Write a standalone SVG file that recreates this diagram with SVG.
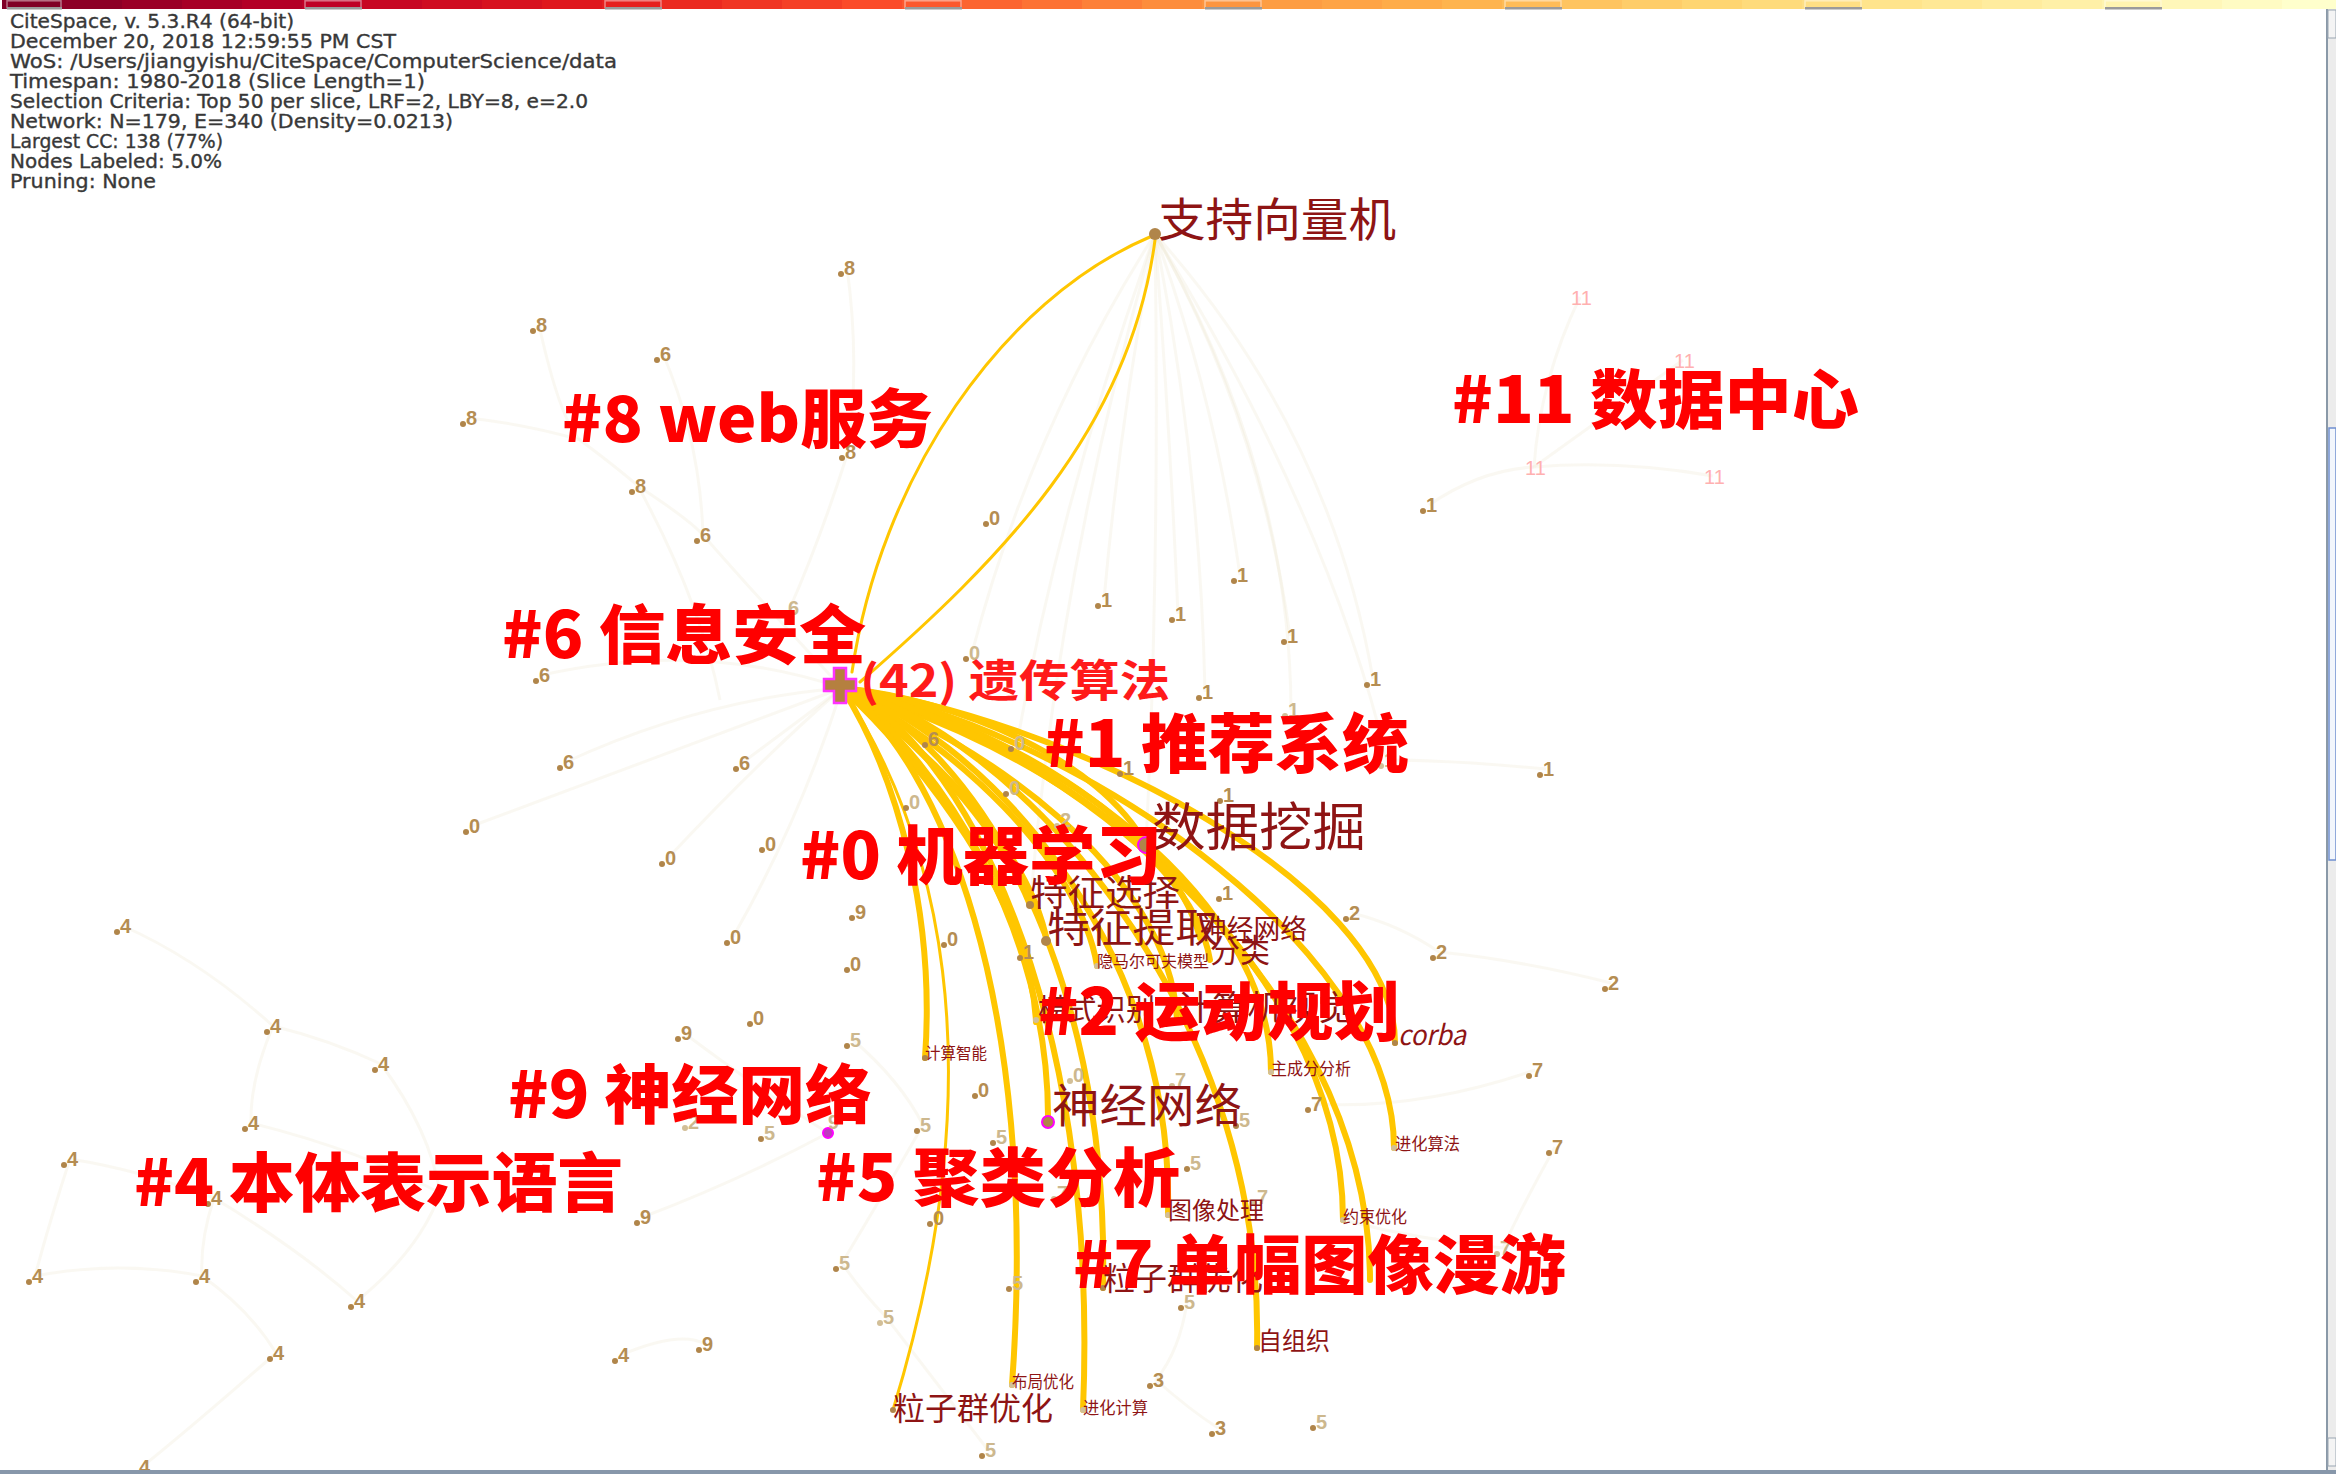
<svg xmlns="http://www.w3.org/2000/svg" width="2336" height="1474" viewBox="0 0 2336 1474">
<style>
.hdr{font-family:"DejaVu Sans","Liberation Sans",sans-serif;font-size:19px;fill:#383838;stroke:#383838;stroke-width:0.35}
.cl{font-family:"Noto Sans CJK SC","Liberation Sans",sans-serif;font-weight:900;font-size:64px;fill:#ff0000}
.nl{font-family:"Noto Sans CJK SC","Liberation Sans",sans-serif;fill:#8e1414}
.num{font-family:"Liberation Sans",sans-serif;font-weight:700;font-size:20px;fill:#b58d52}
.numf{font-family:"Liberation Sans",sans-serif;font-weight:700;font-size:20px;fill:#cdb88e}
.n11{font-family:"Liberation Sans",sans-serif;font-size:20px;fill:#ffb0b0}
.dot{fill:#b0854a}
.dotf{fill:#d2bf98}
.e{fill:none;stroke:#ffc600;stroke-width:6;stroke-linecap:round}
.et{fill:none;stroke:#ffc600;stroke-width:3;stroke-linecap:round}
.ef{fill:none;stroke:#ece6d2;stroke-width:3;opacity:0.28}
</style>
<rect width="2336" height="1474" fill="#ffffff"/>
<g id="timebar">
<rect x="2" y="0" width="60" height="9" fill="#800026"/><rect x="62" y="0" width="60" height="9" fill="#8d0026"/><rect x="122" y="0" width="60" height="9" fill="#9a0026"/><rect x="182" y="0" width="60" height="9" fill="#a70026"/><rect x="242" y="0" width="60" height="9" fill="#b30026"/><rect x="302" y="0" width="60" height="9" fill="#bf0125"/><rect x="362" y="0" width="60" height="9" fill="#c70723"/><rect x="422" y="0" width="60" height="9" fill="#cf0c21"/><rect x="482" y="0" width="60" height="9" fill="#d7121f"/><rect x="542" y="0" width="60" height="9" fill="#df171d"/><rect x="602" y="0" width="60" height="9" fill="#e61f1d"/><rect x="662" y="0" width="60" height="9" fill="#eb2a20"/><rect x="722" y="0" width="60" height="9" fill="#f03523"/><rect x="782" y="0" width="60" height="9" fill="#f54026"/><rect x="842" y="0" width="60" height="9" fill="#fb4b29"/><rect x="902" y="0" width="60" height="9" fill="#fc582d"/><rect x="962" y="0" width="60" height="9" fill="#fc6531"/><rect x="1022" y="0" width="60" height="9" fill="#fd7234"/><rect x="1082" y="0" width="60" height="9" fill="#fd8038"/><rect x="1142" y="0" width="60" height="9" fill="#fd8d3c"/><rect x="1202" y="0" width="60" height="9" fill="#fd953f"/><rect x="1262" y="0" width="60" height="9" fill="#fd9d43"/><rect x="1322" y="0" width="60" height="9" fill="#fea446"/><rect x="1382" y="0" width="60" height="9" fill="#feac49"/><rect x="1442" y="0" width="60" height="9" fill="#feb44e"/><rect x="1502" y="0" width="60" height="9" fill="#febc57"/><rect x="1562" y="0" width="60" height="9" fill="#fec460"/><rect x="1622" y="0" width="60" height="9" fill="#fecd69"/><rect x="1682" y="0" width="60" height="9" fill="#fed571"/><rect x="1742" y="0" width="60" height="9" fill="#fedb7b"/><rect x="1802" y="0" width="60" height="9" fill="#fedf84"/><rect x="1862" y="0" width="60" height="9" fill="#ffe48c"/><rect x="1922" y="0" width="60" height="9" fill="#ffe895"/><rect x="1982" y="0" width="60" height="9" fill="#ffec9e"/><rect x="2042" y="0" width="60" height="9" fill="#fff0a7"/><rect x="2102" y="0" width="60" height="9" fill="#fff4b0"/><rect x="2162" y="0" width="60" height="9" fill="#fff7b9"/><rect x="2222" y="0" width="60" height="9" fill="#fffbc3"/><rect x="2282" y="0" width="54" height="9" fill="#ffffcc"/>
<g fill="none" stroke="#ffffff" stroke-opacity="0.45" stroke-width="1.5">
<rect x="7" y="0.8" width="54" height="7"/><rect x="305" y="0.8" width="56" height="7"/><rect x="605" y="0.8" width="56" height="7"/><rect x="905" y="0.8" width="56" height="7"/><rect x="1205" y="0.8" width="56" height="7"/><rect x="1505" y="0.8" width="56" height="7"/><rect x="1805" y="0.8" width="56" height="7"/><rect x="2105" y="0.8" width="56" height="7"/>
</g>
<g fill="#9a9a9a">
<rect x="7" y="7" width="55" height="2.5"/><rect x="305" y="7" width="57" height="2.5"/><rect x="605" y="7" width="57" height="2.5"/><rect x="905" y="7" width="57" height="2.5"/><rect x="1205" y="7" width="57" height="2.5"/><rect x="1505" y="7" width="57" height="2.5"/><rect x="1805" y="7" width="57" height="2.5"/><rect x="2105" y="7" width="57" height="2.5"/>
</g>
</g>
<g id="header">
<text class="hdr" x="10" y="28" textLength="284" lengthAdjust="spacingAndGlyphs">CiteSpace, v. 5.3.R4 (64-bit)</text>
<text class="hdr" x="10" y="48" textLength="386" lengthAdjust="spacingAndGlyphs">December 20, 2018 12:59:55 PM CST</text>
<text class="hdr" x="10" y="68" textLength="607" lengthAdjust="spacingAndGlyphs">WoS: /Users/jiangyishu/CiteSpace/ComputerScience/data</text>
<text class="hdr" x="10" y="88" textLength="415" lengthAdjust="spacingAndGlyphs">Timespan: 1980-2018 (Slice Length=1)</text>
<text class="hdr" x="10" y="108" textLength="578" lengthAdjust="spacingAndGlyphs">Selection Criteria: Top 50 per slice, LRF=2, LBY=8, e=2.0</text>
<text class="hdr" x="10" y="128" textLength="443" lengthAdjust="spacingAndGlyphs">Network: N=179, E=340 (Density=0.0213)</text>
<text class="hdr" x="10" y="148" textLength="213" lengthAdjust="spacingAndGlyphs">Largest CC: 138 (77%)</text>
<text class="hdr" x="10" y="168" textLength="212" lengthAdjust="spacingAndGlyphs">Nodes Labeled: 5.0%</text>
<text class="hdr" x="10" y="188" textLength="146" lengthAdjust="spacingAndGlyphs">Pruning: None</text>
</g>
<g id="connectors">
<g id="faint">
<path class="ef" d="M1155,234 Q1120,420 1104,600"/>
<path class="ef" d="M1155,234 Q1170,430 1178,614"/>
<path class="ef" d="M1155,234 Q1215,400 1240,575"/>
<path class="ef" d="M1155,234 Q1260,420 1290,636"/>
<path class="ef" d="M1155,234 Q1330,430 1373,679"/>
<path class="ef" d="M1155,234 Q1200,460 1205,692"/>
<path class="ef" d="M1155,234 Q1160,560 1146,845"/>
<path class="ef" d="M1155,234 Q1060,560 1030,905"/>
<path class="ef" d="M1155,234 Q1290,470 1291,710"/>
<path class="ef" d="M1155,234 Q1030,430 972,653"/>
<path class="ef" d="M1155,234 Q1060,500 1017,743"/>
<path class="ef" d="M1155,234 Q1330,520 1387,760"/>
<path class="ef" d="M847,268 Q860,360 848,452 Q820,540 790,608"/>
<path class="ef" d="M539,325 Q560,420 580,440 Q620,470 638,486 Q690,520 703,535 Q760,600 842,688"/>
<path class="ef" d="M469,418 Q530,425 580,440"/>
<path class="ef" d="M663,354 Q700,440 703,535"/>
<path class="ef" d="M638,486 Q700,600 720,700"/>
<path class="ef" d="M542,675 Q700,640 842,688"/>
<path class="ef" d="M472,826 Q650,760 842,688"/>
<path class="ef" d="M668,858 Q760,760 842,688"/>
<path class="ef" d="M733,937 Q800,820 842,688"/>
<path class="ef" d="M566,762 Q700,700 842,688"/>
<path class="ef" d="M742,763 Q800,720 842,688"/>
<path class="ef" d="M123,926 Q200,960 273,1026 Q330,1040 381,1064"/>
<path class="ef" d="M273,1026 Q250,1080 251,1123"/>
<path class="ef" d="M70,1159 Q140,1170 214,1198 Q300,1250 357,1301"/>
<path class="ef" d="M35,1276 Q120,1260 202,1276 Q250,1310 276,1353 Q200,1420 142,1467"/>
<path class="ef" d="M251,1123 Q360,1150 440,1193"/>
<path class="ef" d="M357,1301 Q420,1250 440,1193"/>
<path class="ef" d="M214,1198 Q200,1240 202,1276"/>
<path class="ef" d="M381,1064 Q430,1130 440,1193"/>
<path class="ef" d="M70,1159 Q50,1220 35,1276"/>
<path class="ef" d="M621,1355 Q680,1330 705,1344"/>
<path class="ef" d="M643,1217 Q740,1180 828,1133"/>
<path class="ef" d="M684,1033 Q760,1090 828,1133"/>
<path class="ef" d="M1580,297 Q1540,380 1534,467 Q1620,460 1713,476"/>
<path class="ef" d="M1683,360 Q1600,420 1534,467"/>
<path class="ef" d="M1429,505 Q1480,470 1534,467"/>
<path class="ef" d="M1352,913 Q1400,925 1439,952 Q1520,960 1611,983"/>
<path class="ef" d="M1535,1070 Q1420,1110 1314,1104"/>
<path class="ef" d="M1555,1147 Q1520,1210 1503,1248 Q1420,1240 1343,1220"/>
<path class="ef" d="M853,1040 Q900,1080 923,1125 Q880,1200 842,1263 Q860,1290 886,1317 Q950,1400 988,1450"/>
<path class="ef" d="M1546,769 Q1450,760 1387,760"/>
<path class="ef" d="M1187,1302 Q1180,1350 1156,1380 Q1190,1410 1218,1428"/>
</g>
<g id="strong">
<path class="et" d="M852,672 C880,480 1000,300 1152,236"/>
<path class="et" d="M860,682 C1000,560 1130,430 1155,240"/>
<path class="e" d="M842,688 C960,700 1100,760 1146,845"/>
<path class="e" d="M842,688 C920,740 1000,830 1030,905"/>
<path class="e" d="M842,688 C930,750 1030,850 1047,942"/>
<path class="e" d="M842,688 C990,720 1170,820 1200,938"/>
<path class="e" d="M842,688 C990,730 1190,840 1210,960"/>
<path class="e" d="M842,688 C950,740 1080,860 1097,966"/>
<path class="e" d="M842,688 C920,760 1030,900 1036,1022"/>
<path class="e" d="M842,688 C980,740 1170,870 1177,1020"/>
<path class="e" d="M842,688 C1063,716 1395,883 1395,1043"/>
<path class="e" d="M842,688 C900,780 935,920 925,1058"/>
<path class="e" d="M842,688 C1010,720 1271,880 1271,1072"/>
<path class="e" d="M842,688 C940,760 1050,930 1048,1122"/>
<path class="e" d="M842,688 C1063,725 1394,941 1394,1148"/>
<path class="e" d="M842,688 C970,730 1175,930 1168,1215"/>
<path class="e" d="M842,688 C1040,730 1343,950 1343,1220"/>
<path class="e" d="M842,688 C970,740 1110,960 1103,1288"/>
<path class="e" d="M842,688 C1050,730 1370,980 1370,1280"/>
<path class="e" d="M842,688 C1010,730 1265,1000 1257,1348"/>
<path class="e" d="M842,688 C940,760 1040,1000 1012,1385"/>
<path class="e" d="M842,688 C960,740 1100,1000 1083,1410"/>
<path class="et" d="M842,688 C935,830 1000,1060 893,1410"/>
</g>
</g>
<g id="numnodes">
<g id="c8a"><circle class="dot" cx="841" cy="274" r="3"/><text class="num" x="844" y="275">8</text></g>
<g id="c8b"><circle class="dot" cx="533" cy="331" r="3"/><text class="num" x="536" y="332">8</text></g>
<g id="c8c"><circle class="dot" cx="463" cy="424" r="3"/><text class="num" x="466" y="425">8</text></g>
<g id="c8d"><circle class="dot" cx="842" cy="458" r="3"/><text class="num" x="845" y="459">8</text></g>
<g id="c8e"><circle class="dot" cx="632" cy="492" r="3"/><text class="num" x="635" y="493">8</text></g>
<g id="c6a"><circle class="dot" cx="657" cy="360" r="3"/><text class="num" x="660" y="361">6</text></g>
<g id="c6b"><circle class="dot" cx="697" cy="541" r="3"/><text class="num" x="700" y="542">6</text></g>
<g id="c6c"><circle class="dot" cx="536" cy="681" r="3"/><text class="num" x="539" y="682">6</text></g>
<g id="c6d"><circle class="dot" cx="560" cy="768" r="3"/><text class="num" x="563" y="769">6</text></g>
<g id="c6e"><circle class="dot" cx="736" cy="769" r="3"/><text class="num" x="739" y="770">6</text></g>
<g id="c6f"><circle class="dot" cx="925" cy="745" r="3"/><text class="num" x="928" y="746">6</text></g>
<g id="c6g"><circle class="dotf" cx="785" cy="614" r="3"/><text class="numf" x="788" y="615">6</text></g>
<g id="c0a"><circle class="dot" cx="986" cy="524" r="3"/><text class="num" x="989" y="525">0</text></g>
<g id="c0b"><circle class="dot" cx="966" cy="659" r="3"/><text class="numf" x="969" y="660">0</text></g>
<g id="c0c"><circle class="dot" cx="1011" cy="749" r="3"/><text class="numf" x="1014" y="750">0</text></g>
<g id="c0d"><circle class="dot" cx="1006" cy="794" r="3"/><text class="numf" x="1009" y="795">0</text></g>
<g id="c0e"><circle class="dot" cx="906" cy="808" r="3"/><text class="numf" x="909" y="809">0</text></g>
<g id="c0f"><circle class="dot" cx="901" cy="866" r="3"/><text class="numf" x="904" y="867">0</text></g>
<g id="c0g"><circle class="dot" cx="466" cy="832" r="3"/><text class="num" x="469" y="833">0</text></g>
<g id="c0h"><circle class="dot" cx="662" cy="864" r="3"/><text class="num" x="665" y="865">0</text></g>
<g id="c0i"><circle class="dot" cx="762" cy="850" r="3"/><text class="num" x="765" y="851">0</text></g>
<g id="c0j"><circle class="dot" cx="727" cy="943" r="3"/><text class="num" x="730" y="944">0</text></g>
<g id="c0k"><circle class="dot" cx="847" cy="970" r="3"/><text class="num" x="850" y="971">0</text></g>
<g id="c0l"><circle class="dot" cx="944" cy="945" r="3"/><text class="num" x="947" y="946">0</text></g>
<g id="c0m"><circle class="dot" cx="750" cy="1024" r="3"/><text class="num" x="753" y="1025">0</text></g>
<g id="c0n"><circle class="dot" cx="975" cy="1096" r="3"/><text class="num" x="978" y="1097">0</text></g>
<g id="c0o"><circle class="dotf" cx="1070" cy="1081" r="3"/><text class="numf" x="1073" y="1082">0</text></g>
<g id="c0p"><circle class="dot" cx="930" cy="1224" r="3"/><text class="num" x="933" y="1225">0</text></g>
<g id="c1a"><circle class="dot" cx="1423" cy="511" r="3"/><text class="num" x="1426" y="512">1</text></g>
<g id="c1b"><circle class="dot" cx="1234" cy="581" r="3"/><text class="num" x="1237" y="582">1</text></g>
<g id="c1c"><circle class="dot" cx="1098" cy="606" r="3"/><text class="num" x="1101" y="607">1</text></g>
<g id="c1d"><circle class="dot" cx="1172" cy="620" r="3"/><text class="num" x="1175" y="621">1</text></g>
<g id="c1e"><circle class="dot" cx="1284" cy="642" r="3"/><text class="num" x="1287" y="643">1</text></g>
<g id="c1f"><circle class="dot" cx="1367" cy="685" r="3"/><text class="num" x="1370" y="686">1</text></g>
<g id="c1g"><circle class="dot" cx="1199" cy="698" r="3"/><text class="num" x="1202" y="699">1</text></g>
<g id="c1h"><circle class="dotf" cx="1285" cy="716" r="3"/><text class="numf" x="1288" y="717">1</text></g>
<g id="c1i"><circle class="dot" cx="1120" cy="774" r="3"/><text class="num" x="1123" y="775">1</text></g>
<g id="c1j"><circle class="dot" cx="1540" cy="775" r="3"/><text class="num" x="1543" y="776">1</text></g>
<g id="c1k"><circle class="dot" cx="1220" cy="801" r="3"/><text class="num" x="1223" y="802">1</text></g>
<g id="c1l"><circle class="dot" cx="1219" cy="899" r="3"/><text class="num" x="1222" y="900">1</text></g>
<g id="c1m"><circle class="dot" cx="1020" cy="958" r="3"/><text class="num" x="1023" y="959">1</text></g>
<g id="c1n"><circle class="dotf" cx="1381" cy="766" r="3"/><text class="numf" x="1384" y="767">1</text></g>
<g id="c11a"><text class="n11" x="1571" y="305">11</text></g>
<g id="c11b"><text class="n11" x="1674" y="368">11</text></g>
<g id="c11c"><text class="n11" x="1525" y="475">11</text></g>
<g id="c11d"><text class="n11" x="1704" y="484">11</text></g>
<g id="c2a"><circle class="dotf" cx="1057" cy="826" r="3"/><text class="numf" x="1060" y="827">2</text></g>
<g id="c2b"><circle class="dot" cx="1346" cy="919" r="3"/><text class="num" x="1349" y="920">2</text></g>
<g id="c2c"><circle class="dot" cx="1433" cy="958" r="3"/><text class="num" x="1436" y="959">2</text></g>
<g id="c2d"><circle class="dot" cx="1605" cy="989" r="3"/><text class="num" x="1608" y="990">2</text></g>
<g id="c2e"><circle class="dotf" cx="685" cy="1128" r="3"/><text class="numf" x="688" y="1129">2</text></g>
<g id="c4a"><circle class="dot" cx="117" cy="932" r="3"/><text class="num" x="120" y="933">4</text></g>
<g id="c4b"><circle class="dot" cx="267" cy="1032" r="3"/><text class="num" x="270" y="1033">4</text></g>
<g id="c4c"><circle class="dot" cx="375" cy="1070" r="3"/><text class="num" x="378" y="1071">4</text></g>
<g id="c4d"><circle class="dot" cx="245" cy="1129" r="3"/><text class="num" x="248" y="1130">4</text></g>
<g id="c4e"><circle class="dot" cx="64" cy="1165" r="3"/><text class="num" x="67" y="1166">4</text></g>
<g id="c4f"><circle class="dot" cx="208" cy="1204" r="3"/><text class="num" x="211" y="1205">4</text></g>
<g id="c4g"><circle class="dot" cx="29" cy="1282" r="3"/><text class="num" x="32" y="1283">4</text></g>
<g id="c4h"><circle class="dot" cx="196" cy="1282" r="3"/><text class="num" x="199" y="1283">4</text></g>
<g id="c4i"><circle class="dot" cx="351" cy="1307" r="3"/><text class="num" x="354" y="1308">4</text></g>
<g id="c4j"><circle class="dot" cx="270" cy="1359" r="3"/><text class="num" x="273" y="1360">4</text></g>
<g id="c4k"><circle class="dot" cx="615" cy="1361" r="3"/><text class="num" x="618" y="1362">4</text></g>
<g id="c4l"><circle class="dot" cx="136" cy="1473" r="3"/><text class="num" x="139" y="1474">4</text></g>
<g id="c4m"><circle cx="440" cy="1193" r="4" fill="#ff40ff"/></g>
<g id="c9a"><circle class="dot" cx="852" cy="918" r="3"/><text class="num" x="855" y="919">9</text></g>
<g id="c9b"><circle class="dot" cx="678" cy="1039" r="3"/><text class="num" x="681" y="1040">9</text></g>
<g id="c9c"><circle class="dot" cx="637" cy="1223" r="3"/><text class="num" x="640" y="1224">9</text></g>
<g id="c9d"><circle class="dot" cx="699" cy="1350" r="3"/><text class="num" x="702" y="1351">9</text></g>
<g id="c9e"><circle cx="828" cy="1133" r="5" fill="#c03ac0" stroke="#ff00ff" stroke-width="2"/><text class="numf" x="828" y="1129">9</text></g>
<g id="c5a"><circle class="dot" cx="847" cy="1046" r="3"/><text class="numf" x="850" y="1047">5</text></g>
<g id="c5b"><circle class="dot" cx="761" cy="1139" r="3"/><text class="numf" x="764" y="1140">5</text></g>
<g id="c5c"><circle class="dot" cx="917" cy="1131" r="3"/><text class="numf" x="920" y="1132">5</text></g>
<g id="c5d"><circle class="dot" cx="836" cy="1269" r="3"/><text class="numf" x="839" y="1270">5</text></g>
<g id="c5e"><circle class="dotf" cx="880" cy="1323" r="3"/><text class="numf" x="883" y="1324">5</text></g>
<g id="c5f"><circle class="dot" cx="982" cy="1456" r="3"/><text class="numf" x="985" y="1457">5</text></g>
<g id="c5g"><circle class="dot" cx="993" cy="1143" r="3"/><text class="numf" x="996" y="1144">5</text></g>
<g id="c5h"><circle class="dot" cx="1236" cy="1126" r="3"/><text class="numf" x="1239" y="1127">5</text></g>
<g id="c5i"><circle class="dot" cx="1187" cy="1169" r="3"/><text class="numf" x="1190" y="1170">5</text></g>
<g id="c5j"><circle class="dot" cx="1009" cy="1289" r="3"/><text class="numf" x="1012" y="1290">5</text></g>
<g id="c5k"><circle class="dot" cx="1181" cy="1308" r="3"/><text class="numf" x="1184" y="1309">5</text></g>
<g id="c5l"><circle class="dot" cx="1313" cy="1428" r="3"/><text class="numf" x="1316" y="1429">5</text></g>
<g id="c7a"><circle class="dot" cx="1529" cy="1076" r="3"/><text class="num" x="1532" y="1077">7</text></g>
<g id="c7b"><circle class="dot" cx="1308" cy="1110" r="3"/><text class="num" x="1311" y="1111">7</text></g>
<g id="c7c"><circle class="dot" cx="1549" cy="1153" r="3"/><text class="num" x="1552" y="1154">7</text></g>
<g id="c7d"><circle class="dotf" cx="1172" cy="1086" r="3"/><text class="numf" x="1175" y="1087">7</text></g>
<g id="c7e"><circle class="dotf" cx="1054" cy="1199" r="3"/><text class="numf" x="1057" y="1200">7</text></g>
<g id="c7f"><circle class="dotf" cx="1254" cy="1203" r="3"/><text class="numf" x="1257" y="1204">7</text></g>
<g id="c7g"><circle class="dotf" cx="1497" cy="1254" r="3"/><text class="numf" x="1500" y="1255">7</text></g>
<g id="c3a"><circle class="dot" cx="1150" cy="1386" r="3"/><text class="num" x="1153" y="1387">3</text></g>
<g id="c3b"><circle class="dot" cx="1212" cy="1434" r="3"/><text class="num" x="1215" y="1435">3</text></g>
</g>
<g id="labelnodes">
<g id="svm"><circle cx="1155" cy="234" r="6" fill="#b0854a"/><text class="nl" x="1158" y="236" font-size="46" textLength="238" lengthAdjust="spacingAndGlyphs">支持向量机</text></g>
<g id="ga"><path d="M834,668 h12 v11 h10 v12 h-10 v12 h-12 v-12 h-10 v-12 h10 z" fill="#b5803f" stroke="#ff33ff" stroke-width="2.5"/><text x="860" y="697" font-family="Noto Sans CJK SC, sans-serif" font-weight="700" font-size="44" fill="#ff1a1a" textLength="310" lengthAdjust="spacingAndGlyphs">(42) 遗传算法</text></g>
<g id="dm"><circle cx="1146" cy="845" r="8" fill="#b0854a" stroke="#ff00ff" stroke-width="2"/><text class="nl" x="1152" y="846" font-size="52" textLength="214" lengthAdjust="spacingAndGlyphs">数据挖掘</text></g>
<g id="fs"><circle class="dot" cx="1030" cy="905" r="4"/><text class="nl" x="1030" y="906" font-size="36" textLength="150" lengthAdjust="spacingAndGlyphs">特征选择</text></g>
<g id="fe"><circle class="dot" cx="1046" cy="941" r="5"/><text class="nl" x="1047" y="942" font-size="40" textLength="171" lengthAdjust="spacingAndGlyphs">特征提取</text></g>
<g id="nn2"><text class="nl" x="1200" y="939" font-size="27" textLength="107" lengthAdjust="spacingAndGlyphs">神经网络</text></g>
<g id="cls"><text class="nl" x="1210" y="962" font-size="32" textLength="60" lengthAdjust="spacingAndGlyphs">分类</text></g>
<g id="hmm"><circle class="dotf" cx="1097" cy="966" r="3"/><text class="nl" x="1097" y="967" font-size="16" textLength="112" lengthAdjust="spacingAndGlyphs">隐马尔可夫模型</text></g>
<g id="pr"><circle class="dotf" cx="1036" cy="1020" r="3"/><text class="nl" x="1038" y="1020" font-size="30" textLength="117" lengthAdjust="spacingAndGlyphs">模式识别</text></g>
<g id="cv"><text class="nl" x="1177" y="1020" font-size="34" textLength="176" lengthAdjust="spacingAndGlyphs">计算机视觉</text></g>
<g id="corba"><circle class="dot" cx="1395" cy="1043" r="3"/><text class="nl" x="1398" y="1045" font-family="Liberation Sans, sans-serif" font-style="italic" font-size="28" textLength="68" lengthAdjust="spacingAndGlyphs">corba</text></g>
<g id="ci"><circle class="dot" cx="925" cy="1058" r="3"/><text class="nl" x="925" y="1059" font-size="16" textLength="62" lengthAdjust="spacingAndGlyphs">计算智能</text></g>
<g id="pca"><circle class="dotf" cx="1271" cy="1072" r="3"/><text class="nl" x="1271" y="1075" font-size="17" textLength="80" lengthAdjust="spacingAndGlyphs">主成分分析</text></g>
<g id="nn"><circle cx="1048" cy="1122" r="6" fill="#b0854a" stroke="#ff00ff" stroke-width="2"/><text class="nl" x="1052" y="1122" font-size="46" textLength="190" lengthAdjust="spacingAndGlyphs">神经网络</text></g>
<g id="ea"><circle class="dotf" cx="1394" cy="1148" r="3"/><text class="nl" x="1395" y="1150" font-size="17" textLength="65" lengthAdjust="spacingAndGlyphs">进化算法</text></g>
<g id="ip"><circle class="dotf" cx="1168" cy="1215" r="3"/><text class="nl" x="1168" y="1219" font-size="24" textLength="96" lengthAdjust="spacingAndGlyphs">图像处理</text></g>
<g id="co"><circle class="dotf" cx="1343" cy="1220" r="3"/><text class="nl" x="1343" y="1223" font-size="17" textLength="64" lengthAdjust="spacingAndGlyphs">约束优化</text></g>
<g id="pso2"><circle class="dot" cx="1103" cy="1288" r="3"/><text class="nl" x="1103" y="1290" font-size="32" textLength="160" lengthAdjust="spacingAndGlyphs">粒子群优化</text></g>
<g id="so"><circle class="dot" cx="1257" cy="1348" r="3"/><text class="nl" x="1258" y="1350" font-size="25" textLength="72" lengthAdjust="spacingAndGlyphs">自组织</text></g>
<g id="lo"><circle class="dotf" cx="1012" cy="1385" r="3"/><text class="nl" x="1012" y="1388" font-size="17" textLength="62" lengthAdjust="spacingAndGlyphs">布局优化</text></g>
<g id="pso"><circle class="dot" cx="893" cy="1410" r="3"/><text class="nl" x="893" y="1420" font-size="32" textLength="160" lengthAdjust="spacingAndGlyphs">粒子群优化</text></g>
<g id="ec"><circle class="dotf" cx="1083" cy="1410" r="3"/><text class="nl" x="1083" y="1414" font-size="17" textLength="65" lengthAdjust="spacingAndGlyphs">进化计算</text></g>
</g>
<g id="clusters">
<g id="k8"><text class="cl" x="562" y="442" textLength="371" lengthAdjust="spacingAndGlyphs">#8 web服务</text></g>
<g id="k11"><text class="cl" x="1452" y="423" textLength="407" lengthAdjust="spacingAndGlyphs">#11 数据中心</text></g>
<g id="k6"><text class="cl" x="502" y="658" textLength="364" lengthAdjust="spacingAndGlyphs">#6 信息安全</text></g>
<g id="k1"><text class="cl" x="1044" y="767" textLength="365" lengthAdjust="spacingAndGlyphs">#1 推荐系统</text></g>
<g id="k0"><text class="cl" x="800" y="879" textLength="362" lengthAdjust="spacingAndGlyphs">#0 机器学习</text></g>
<g id="k2"><text class="cl" x="1038" y="1035" textLength="362" lengthAdjust="spacingAndGlyphs">#2 运动规划</text></g>
<g id="k9"><text class="cl" x="508" y="1118" textLength="364" lengthAdjust="spacingAndGlyphs">#9 神经网络</text></g>
<g id="k4"><text class="cl" x="134" y="1206" textLength="489" lengthAdjust="spacingAndGlyphs">#4 本体表示语言</text></g>
<g id="k5"><text class="cl" x="816" y="1201" textLength="364" lengthAdjust="spacingAndGlyphs">#5 聚类分析</text></g>
<g id="k7"><text class="cl" x="1073" y="1288" textLength="493" lengthAdjust="spacingAndGlyphs">#7 单幅图像漫游</text></g>
</g>
<g id="frame">
<rect x="2328" y="9" width="8" height="1462" fill="#ececec"/>
<rect x="2326" y="9" width="2" height="1462" fill="#8a99a8"/>
<rect x="2328" y="10" width="8" height="28" fill="#f4f4f4" stroke="#9aa6b2" stroke-width="1"/>
<rect x="2329" y="428" width="7" height="432" fill="#f2f6fc" stroke="#6f8fd0" stroke-width="1.5"/>
<rect x="2328" y="1438" width="8" height="28" fill="#f4f4f4" stroke="#9aa6b2" stroke-width="1"/>
<rect x="0" y="1470" width="2336" height="4" fill="#8797aa"/>
</g>
</svg>
